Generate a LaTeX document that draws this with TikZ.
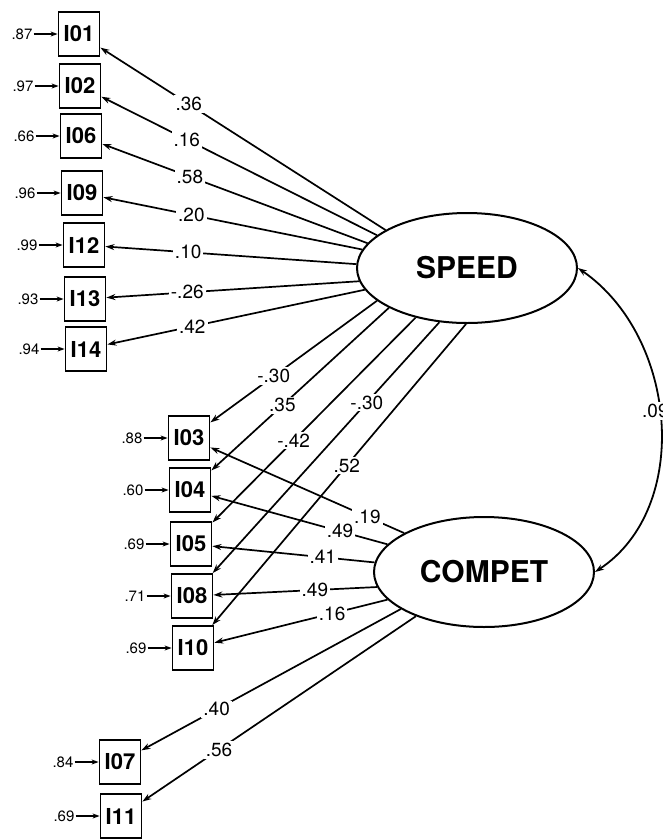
\documentclass[tikz,border=0pt]{standalone}
\usepackage{fontspec}
\setmainfont{TeX Gyre Heros}
\usetikzlibrary{arrows.meta, shapes.geometric, positioning}

\tikzset{
  item/.style={draw, line width=1.8pt, minimum width=41pt, minimum height=44pt, inner sep=0pt, font=\fontsize{22}{24}\selectfont\bfseries},
  factor/.style={draw, ellipse, line width=2pt, minimum width=220pt, minimum height=110pt, inner sep=0pt, font=\fontsize{30}{32}\selectfont\bfseries},
  errlab/.style={inner sep=1pt, font=\fontsize{15}{16}\selectfont},
  errarrow/.style={line width=1.4pt, -{Stealth[length=7pt, width=5pt]}},
  loading/.style={line width=1.7pt, -{Stealth[length=9pt, width=6pt]}},
  coef/.style={fill=white, inner sep=2pt, font=\fontsize{19}{21}\selectfont},
}

\begin{document}
\begin{tikzpicture}[x=1pt, y=-1pt]
  \useasboundingbox (0,0) rectangle (663,839);
  % Factores
  \node[factor] (speed) at (467,268) {SPEED};
  \node[factor] (compet) at (484,572) {COMPET};
  % Items (grupo superior)
  \node[item] (i01) at (79,34) {I01};
  \node[item] (i02) at (80,86) {I02};
  \node[item] (i06) at (81,136) {I06};
  \node[item] (i09) at (82,193) {I09};
  \node[item] (i12) at (84,245) {I12};
  \node[item] (i13) at (85,299) {I13};
  \node[item] (i14) at (86,349) {I14};
  % Items (grupo central)
  \node[item] (i03) at (189,438) {I03};
  \node[item] (i04) at (190,490) {I04};
  \node[item] (i05) at (191,544) {I05};
  \node[item] (i08) at (192,596) {I08};
  \node[item] (i10) at (193,648) {I10};
  % Items (grupo inferior)
  \node[item] (i07) at (120,762) {I07};
  \node[item] (i11) at (121,816) {I11};
  % Errores
  \node[errlab, left=24pt of i01] (e01) {.87};
  \node[errlab, left=24pt of i02] (e02) {.97};
  \node[errlab, left=24pt of i06] (e06) {.66};
  \node[errlab, left=24pt of i09] (e09) {.96};
  \node[errlab, left=24pt of i12] (e12) {.99};
  \node[errlab, left=24pt of i13] (e13) {.93};
  \node[errlab, left=24pt of i14] (e14) {.94};
  \node[errlab, left=24pt of i03] (e03) {.88};
  \node[errlab, left=24pt of i04] (e04) {.60};
  \node[errlab, left=24pt of i05] (e05) {.69};
  \node[errlab, left=24pt of i08] (e08) {.71};
  \node[errlab, left=24pt of i10] (e10) {.69};
  \node[errlab, left=24pt of i07] (e07) {.84};
  \node[errlab, left=24pt of i11] (e11) {.69};
  \draw[errarrow] (e01) -- (i01);
  \draw[errarrow] (e02) -- (i02);
  \draw[errarrow] (e06) -- (i06);
  \draw[errarrow] (e09) -- (i09);
  \draw[errarrow] (e12) -- (i12);
  \draw[errarrow] (e13) -- (i13);
  \draw[errarrow] (e14) -- (i14);
  \draw[errarrow] (e03) -- (i03);
  \draw[errarrow] (e04) -- (i04);
  \draw[errarrow] (e05) -- (i05);
  \draw[errarrow] (e08) -- (i08);
  \draw[errarrow] (e10) -- (i10);
  \draw[errarrow] (e07) -- (i07);
  \draw[errarrow] (e11) -- (i11);
  % Cargas de SPEED
  \draw[loading] (speed.155) -- node[coef, pos=0.69] {.36} (i01);
  \draw[loading] (speed.160) -- node[coef, pos=0.69] {.16} (i02);
  \draw[loading] (speed.166) -- node[coef, pos=0.67] {.58} (i06);
  \draw[loading] (speed.170) -- node[coef, pos=0.66] {.20} (i09);
  \draw[loading] (speed.178) -- node[coef, pos=0.67] {.10} (i12);
  \draw[loading] (speed.187) -- node[coef, pos=0.68] {-.26} (i13);
  \draw[loading] (speed.192) -- node[coef, pos=0.67] {.42} (i14);
  \draw[loading] (speed.200) -- node[coef, pos=0.62] {-.30} (i03);
  \draw[loading] (speed.207) -- node[coef, pos=0.60] {.35} (i04);
  \draw[loading] (speed.224) -- node[coef, pos=0.60] {-.42} (i05);
  \draw[loading] (speed.243) -- node[coef, pos=0.32] {-.30} (i08);
  \draw[loading] (speed.269) -- node[coef, pos=0.47] {.52} (i10);
  % Cargas de COMPET
  \draw[loading] (compet.164) -- node[coef, pos=0.27] {.49} (i04);
  \draw[loading] (compet.154) -- node[coef, pos=0.19] {.19} (i03);
  \draw[loading] (compet.175) -- node[coef, pos=0.32] {.41} (i05);
  \draw[loading] (compet.188) -- node[coef, pos=0.38] {.49} (i08);
  \draw[loading] (compet.196) -- node[coef, pos=0.32] {.16} (i10);
  \draw[loading] (compet.204) -- node[coef, pos=0.71] {.40} (i07);
  \draw[loading] (compet.213) -- node[coef, pos=0.72] {.56} (i11);
  % Correlación
  \draw[line width=1.8pt, {Stealth[length=9pt, width=6pt]}-{Stealth[length=9pt, width=6pt]}]
    (speed.east) .. controls (678,337) and (692,508) .. node[coef, pos=0.47, xshift=-4pt] {.09} (compet.east);
\end{tikzpicture}
\end{document}
